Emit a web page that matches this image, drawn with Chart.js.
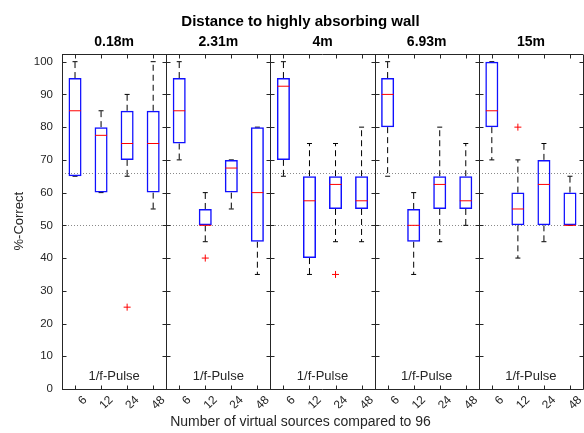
<!DOCTYPE html>
<html>
<head>
<meta charset="utf-8">
<script src="https://cdn.jsdelivr.net/npm/chart.js@4/dist/chart.umd.min.js"></script>
<style>
  html, body { margin: 0; padding: 0; background: #fff; overflow: hidden; }
  #wrap { width: 590px; height: 433px; }
</style>
</head>
<body>
<div id="wrap"><canvas id="myChart"></canvas></div>
<script>
// panels and groups
const distances = ['0.18m', '2.31m', '4m', '6.93m', '15m'];
const sources = ['6', '12', '24', '48'];

// one entry per box, panel after panel (6, 12, 24, 48 in each)
const whiskerLow  = [65, 60, 65, 55,   70, 45, 55, 35,   65, 35, 45, 45,   65, 35, 45, 50,   70, 40, 45, 50];
const quartile1   = [65, 60, 70, 60,   75, 50, 60, 45,   70, 40, 55, 55,   80, 45, 55, 55,   80, 50, 50, 50];
const medians     = [85, 77.5, 75, 75, 85, 50, 67.5, 60, 92.5, 57.5, 62.5, 57.5, 90, 50, 62.5, 57.5, 85, 55, 62.5, 50];
const quartile3   = [95, 80, 85, 85,   95, 55, 70, 80,   95, 65, 65, 65,   95, 55, 65, 65,   100, 60, 70, 60];
const whiskerHigh = [100, 85, 90, 100, 100, 60, 70, 80,  100, 75, 75, 80,  100, 60, 80, 75,  100, 70, 75, 65];

// outliers: box index and value
const outlierBox = [2, 5, 10, 17];
const outlierValues = [25, 40, 35, 80];

// dotted reference lines
const chanceLines = [50, 66];
const yTicks = [0, 10, 20, 30, 40, 50, 60, 70, 80, 90, 100];

const textColor = '#262626';
Chart.defaults.font.family = "'Liberation Sans', Arial, sans-serif";
Chart.defaults.color = textColor;

// whisker segments, split with gaps
const whiskerPoints = [];
whiskerLow.forEach(function (lo, i) {
    whiskerPoints.push({ x: i, y: quartile3[i] }, { x: i, y: whiskerHigh[i] }, { x: i, y: null });
    whiskerPoints.push({ x: i, y: quartile1[i] }, { x: i, y: lo }, { x: i, y: null });
});
const capPoints = [];
whiskerLow.forEach(function (lo, i) {
    capPoints.push({ x: i, y: lo }, { x: i, y: whiskerHigh[i] });
});

const panelFrame = {
    id: 'panelFrame',
    beforeDatasetsDraw(chart) {
        const { ctx, chartArea: a, scales: { y } } = chart;
        ctx.save();
        ctx.strokeStyle = '#8a8a8a';
        ctx.lineWidth = 1;
        ctx.setLineDash([1, 2]);
        chanceLines.forEach(function (v) {
            const py = Math.round(y.getPixelForValue(v)) + 0.5;
            ctx.beginPath();
            ctx.moveTo(a.left, py);
            ctx.lineTo(a.right, py);
            ctx.stroke();
        });
        ctx.restore();
    },
    afterDatasetsDraw(chart) {
        const { ctx, chartArea: a, scales: { x, y } } = chart;
        const top = Math.round(a.top) + 0.5;
        const bottom = Math.round(a.bottom) + 0.5;
        ctx.save();
        ctx.strokeStyle = textColor;
        ctx.lineWidth = 1;
        ctx.beginPath();
        ctx.moveTo(a.left, top); ctx.lineTo(a.right, top);
        ctx.moveTo(a.left, bottom); ctx.lineTo(a.right, bottom);
        for (let p = 0; p <= distances.length; p++) {
            const px = Math.round(x.getPixelForValue(p * 4 - 0.5)) + 0.5;
            ctx.moveTo(px, top); ctx.lineTo(px, bottom);
            yTicks.forEach(function (v) {
                const py = Math.round(y.getPixelForValue(v)) + 0.5;
                if (p > 0) { ctx.moveTo(px - 4, py); ctx.lineTo(px, py); }
                if (p < distances.length) { ctx.moveTo(px, py); ctx.lineTo(px + 4, py); }
            });
        }
        whiskerLow.forEach(function (_, i) {
            const px = Math.round(x.getPixelForValue(i)) + 0.5;
            ctx.moveTo(px, top); ctx.lineTo(px, top + 4);
            ctx.moveTo(px, bottom); ctx.lineTo(px, bottom - 4);
        });
        ctx.stroke();

        ctx.fillStyle = textColor;
        ctx.font = "13px 'Liberation Sans', Arial, sans-serif";
        ctx.textAlign = 'center';
        ctx.textBaseline = 'middle';
        distances.forEach(function (_, p) {
            ctx.fillText('1/f-Pulse', x.getPixelForValue(p * 4 + 1.5), a.bottom - 13);
        });
        ctx.restore();
    }
};

const ctx = document.getElementById('myChart');

new Chart(ctx, {
    type: 'bar',
    data: {
        datasets: [{
            type: 'line',
            label: 'whiskers',
            data: whiskerPoints,
            xAxisID: 'x',
            borderColor: '#000',
            borderWidth: 1,
            borderDash: [6, 4],
            pointRadius: 0,
            spanGaps: false,
            order: 5
        }, {
            type: 'line',
            label: 'caps',
            data: capPoints,
            xAxisID: 'x',
            showLine: false,
            pointStyle: 'line',
            pointRadius: 2.5,
            borderColor: '#000',
            borderWidth: 1,
            order: 4
        }, {
            label: 'boxes',
            data: quartile1.map(function (v, i) { return { x: i, y: [v, quartile3[i]] }; }),
            xAxisID: 'x',
            backgroundColor: 'rgba(0,0,0,0)',
            borderColor: '#1010ff',
            borderWidth: 1.5,
            borderSkipped: false,
            barPercentage: 0.5,
            categoryPercentage: 1,
            order: 3
        }, {
            type: 'line',
            label: 'median',
            data: medians.map(function (v, i) { return { x: i, y: v }; }),
            xAxisID: 'x',
            showLine: false,
            pointStyle: 'line',
            pointRadius: 6,
            borderColor: '#ff0000',
            borderWidth: 1,
            order: 2
        }, {
            type: 'line',
            label: 'outliers',
            data: outlierBox.map(function (b, k) { return { x: b, y: outlierValues[k] }; }),
            xAxisID: 'x',
            showLine: false,
            pointStyle: 'cross',
            pointRadius: 3.5,
            borderColor: '#ff0000',
            borderWidth: 1,
            order: 1
        }]
    },
    options: {
        responsive: true,
        maintainAspectRatio: false,
        animation: false,
        events: [],
        layout: { padding: { left: 16, right: 5, top: 0, bottom: 0 } },
        plugins: {
            legend: { display: false },
            tooltip: { enabled: false },
            title: {
                display: true,
                text: 'Distance to highly absorbing wall',
                color: '#000',
                font: { size: 15, weight: 'bold' },
                padding: { top: 13, bottom: 0 }
            },
            subtitle: {
                display: true,
                position: 'bottom',
                text: 'Number of virtual sources compared to 96',
                color: textColor,
                font: { size: 14 },
                padding: { top: 6, bottom: 2 }
            }
        },
        scales: {
            x: {
                type: 'linear',
                position: 'bottom',
                min: -0.5,
                max: 19.5,
                offset: false,
                grid: { display: false, drawTicks: false },
                border: { display: false },
                afterBuildTicks: function (s) {
                    s.ticks = whiskerLow.map(function (_, i) { return { value: i }; });
                },
                afterFit: function (s) { s.height = 19.2; },
                ticks: {
                    autoSkip: false,
                    minRotation: 45,
                    maxRotation: 45,
                    labelOffset: 10,
                    padding: 4,
                    font: { size: 12 },
                    callback: function (v) { return sources[v % 4]; }
                }
            },
            xTop: {
                type: 'linear',
                position: 'top',
                min: -0.5,
                max: 19.5,
                offset: false,
                grid: { display: false, drawTicks: false },
                border: { display: false },
                afterBuildTicks: function (s) {
                    s.ticks = distances.map(function (_, p) { return { value: p * 4 + 1.5 }; });
                },
                afterFit: function (s) { s.height = 22.5; },
                ticks: {
                    autoSkip: false,
                    maxRotation: 0,
                    padding: 3,
                    color: '#000',
                    font: { size: 14, weight: 'bold' },
                    callback: function (v) { return distances[Math.round((v - 1.5) / 4)]; }
                }
            },
            y: {
                min: 0,
                max: 102.5,
                grid: { display: false, drawTicks: false },
                border: { display: false },
                afterBuildTicks: function (s) {
                    s.ticks = yTicks.map(function (v) { return { value: v }; });
                },
                afterFit: function (s) { s.width = 46; },
                ticks: { padding: 9, font: { size: 11.5 } },
                title: {
                    display: true,
                    text: '%-Correct',
                    font: { size: 13 },
                    padding: { top: -4, bottom: 0 }
                }
            }
        }
    },
    plugins: [panelFrame]
});
</script>
</body>
</html>
